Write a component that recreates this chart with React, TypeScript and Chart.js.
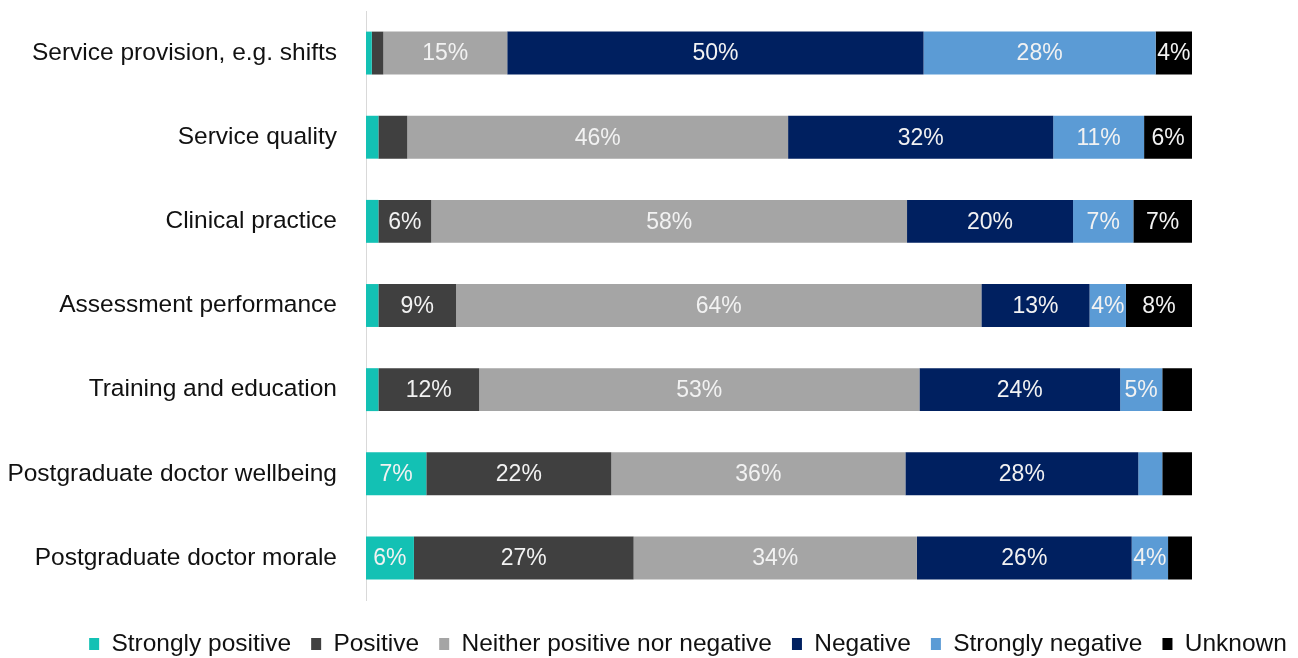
import React, { useEffect, useRef } from "react";
import { Chart, registerables } from "chart.js";

Chart.register(...registerables);

const categories = [
  "Service provision, e.g. shifts",
  "Service quality",
  "Clinical practice",
  "Assessment performance",
  "Training and education",
  "Postgraduate doctor wellbeing",
  "Postgraduate doctor morale",
];

const seriesNames = [
  "Strongly positive",
  "Positive",
  "Neither positive nor negative",
  "Negative",
  "Strongly negative",
  "Unknown",
];

const stronglyPositive = [0.7, 1.5, 1.5, 1.5, 1.5, 7.3, 5.8];
const positive = [1.4, 3.5, 6.4, 9.4, 12.2, 22.4, 26.6];
const neither = [15.0, 46.1, 57.6, 63.6, 53.3, 35.6, 34.3];
const negative = [50.4, 32.1, 20.1, 13.1, 24.3, 28.2, 26.0];
const stronglyNegative = [28.1, 11.0, 7.3, 4.4, 5.1, 2.9, 4.4];
const unknown = [4.4, 5.8, 7.1, 8.0, 3.6, 3.6, 2.9];

const colors = ["#13C1B4", "#404040", "#A5A5A5", "#002060", "#5B9BD5", "#000000"];

const FONT = "'Liberation Sans', Arial, sans-serif";

const labelPlugin = {
  id: "segLabels",
  afterDatasetsDraw(chart: any) {
    const ctx = chart.ctx;
    ctx.save();
    ctx.font = `23px ${FONT}`;
    ctx.fillStyle = "#F2F2F2";
    ctx.textAlign = "center";
    ctx.textBaseline = "middle";
    chart.data.datasets.forEach((ds: any, di: number) => {
      const meta = chart.getDatasetMeta(di);
      meta.data.forEach((bar: any, i: number) => {
        const v = ds.data[i];
        if (v < 3.8) return;
        const cx = (bar.x + bar.base) / 2;
        ctx.fillText(Math.round(v) + "%", cx, bar.y + 1);
      });
    });
    ctx.restore();
  },
};

const legendShift = {
  id: "legendShift",
  afterLayout(chart: any) {
    if (chart.legend) {
      chart.legend.left += 39;
      chart.legend.right += 39;
    }
  },
};

export default function App() {
  const ref = useRef<HTMLCanvasElement>(null);
  useEffect(() => {
    document.body.style.margin = "0";
    const data = [stronglyPositive, positive, neither, negative, stronglyNegative, unknown];
    const chart = new Chart(ref.current!, {
      type: "bar",
      data: {
        labels: categories,
        datasets: seriesNames.map((name, i) => ({
          label: name,
          data: data[i],
          backgroundColor: colors[i],
          borderWidth: 0,
          barPercentage: 0.51,
          categoryPercentage: 1,
        })),
      },
      options: {
        indexAxis: "y",
        animation: false,
        responsive: false,
        maintainAspectRatio: false,
        layout: { padding: { top: 11, bottom: -8.25, left: 0, right: 0 } },
        scales: {
          x: {
            stacked: true,
            min: 0,
            max: 100,
            display: true,
            ticks: { display: false },
            grid: { display: false },
            border: { display: false },
            afterFit(scale: any) {
              scale.height = 11.75;
              scale.paddingLeft = 0;
              scale.paddingRight = 0;
            },
          } as any,
          y: {
            stacked: true,
            grid: { display: false },
            border: { display: true, color: "#D9D9D9", width: 1 },
            ticks: {
              color: "#111111",
              font: { family: FONT, size: 24.5 },
              padding: 21,
            },
            afterFit(scale: any) {
              scale.width = 366;
              scale.paddingTop = 0;
              scale.paddingBottom = 0;
            },
          } as any,
          ySpacer: {
            type: "linear",
            position: "right",
            display: true,
            grid: { display: false },
            border: { display: false },
            ticks: { display: false },
            afterFit(scale: any) {
              scale.width = 106;
              scale.paddingTop = 0;
              scale.paddingBottom = 0;
            },
          } as any,
        },
        plugins: {
          legend: {
            position: "bottom",
            labels: {
              color: "#111111",
              font: { family: FONT, size: 24.5 },
              boxWidth: 10,
              boxHeight: 12,
              padding: 20,
            },
          },
          tooltip: { enabled: false },
        },
      },
      plugins: [labelPlugin, legendShift],
    });
    return () => chart.destroy();
  }, []);
  return (
    <div style={{ width: 1298, height: 658, overflow: "hidden" }}>
      <canvas ref={ref} width={1298} height={658} style={{ display: "block" }} />
    </div>
  );
}
